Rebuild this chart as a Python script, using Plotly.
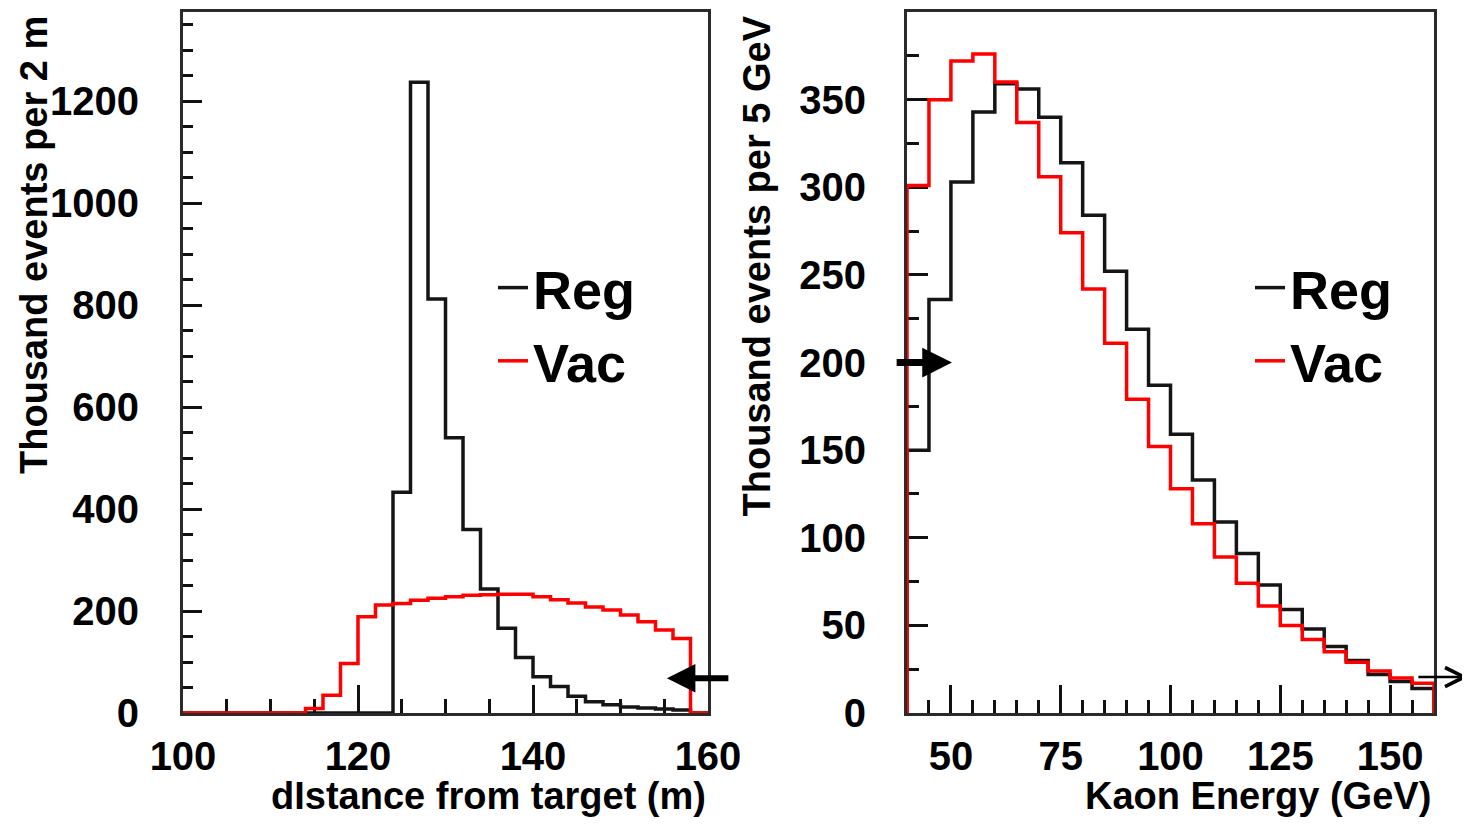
import plotly.graph_objects as go

# ---------------- data ----------------
# Left panel: decay distance from target, 2 m bins (lower bin edges)
DIST_BIN_W = 2
dist_reg_bins = [124, 126, 128, 130, 132, 134, 136, 138, 140, 142, 144, 146, 148, 150, 152, 154, 156]
dist_reg = [433, 1237, 812, 540, 360, 243, 166, 109, 71, 52, 33, 22, 16, 12, 10, 8, 6]
dist_vac_bins = [114, 116, 118, 120, 122, 124, 126, 128, 130, 132, 134, 136, 138, 140, 142,
                 144, 146, 148, 150, 152, 154, 156]
dist_vac = [9, 35, 97, 189, 212, 215, 221, 225, 228, 231, 232, 233, 233, 228, 222,
            216, 208, 202, 192, 179, 163, 146]
dist_range = [100, 160]
dist_yrange = [0, 1375]

# Right panel: kaon energy, 5 GeV bins (lower bin edges)
EN_BIN_W = 5
en_bins = [40, 45, 50, 55, 60, 65, 70, 75, 80, 85, 90, 95, 100, 105, 110, 115, 120, 125,
           130, 135, 140, 145, 150, 155]
en_reg = [150, 236, 303, 343, 359, 356, 340, 314, 284, 252, 219, 187, 159, 133, 109, 91,
          73, 59, 48, 38, 30, 22, 18, 14]
en_vac = [301, 350, 372, 376, 360, 337, 306, 274, 242, 211, 179, 152, 128, 108, 89, 74,
          61, 50, 42, 35, 29, 24, 20, 17]
en_range = [40, 160]
en_yrange = [0, 400]

left_xticks = [100, 120, 140, 160]
left_yticks = [0, 200, 400, 600, 800, 1000, 1200]
right_xticks = [50, 75, 100, 125, 150]
right_yticks = [0, 50, 100, 150, 200, 250, 300, 350]

REG_COLOR = "#151515"
VAC_COLOR = "#ff0000"
FONT = "Liberation Sans"

# page body has an 8px margin; figure coordinates are shifted accordingly
OFF = 8
W, H = 1462, 813
M_T = 12 - OFF
M_B = H - (713 - OFF)


def px_x(p):
    return (p - OFF) / W


def px_y(p):
    return (H - M_B - (p - OFF)) / (H - M_B - M_T)


def step_xy(bins, vals, width, lo, hi):
    xs = [lo] + list(bins) + [bins[-1] + width, hi]
    ys = [0] + list(vals) + [0, 0]
    return xs, ys


fig = go.Figure()

x, y = step_xy(dist_reg_bins, dist_reg, DIST_BIN_W, dist_range[0], dist_range[1])
fig.add_trace(go.Scatter(x=x, y=y, mode="lines", line=dict(shape="hv", color=REG_COLOR, width=3.5),
                         name="Reg", xaxis="x", yaxis="y", legend="legend", cliponaxis=False))
x, y = step_xy(dist_vac_bins, dist_vac, DIST_BIN_W, dist_range[0], dist_range[1])
fig.add_trace(go.Scatter(x=x, y=y, mode="lines", line=dict(shape="hv", color=VAC_COLOR, width=3.5),
                         name="Vac", xaxis="x", yaxis="y", legend="legend", cliponaxis=False))

x, y = step_xy(en_bins, en_reg, EN_BIN_W, en_range[0], en_range[1])
fig.add_trace(go.Scatter(x=x, y=y, mode="lines", line=dict(shape="hv", color=REG_COLOR, width=3.5),
                         name="Reg", xaxis="x2", yaxis="y2", legend="legend2", cliponaxis=False))
x, y = step_xy(en_bins, en_vac, EN_BIN_W, en_range[0], en_range[1])
fig.add_trace(go.Scatter(x=x, y=y, mode="lines", line=dict(shape="hv", color=VAC_COLOR, width=3.5),
                         name="Vac", xaxis="x2", yaxis="y2", legend="legend2", cliponaxis=False))

tickfont = dict(family=FONT, size=40, color="#000", weight="bold")
common = dict(showgrid=False, zeroline=False, showline=True, mirror=True, linecolor="#2a2a2a",
              linewidth=3, ticks="inside", tickwidth=3, tickcolor="#111", tickfont=tickfont,
              layer="below traces", automargin=False)

fig.update_layout(
    width=W, height=H, autosize=False,
    margin=dict(l=0, r=0, t=M_T, b=M_B, autoexpand=False),
    paper_bgcolor="white", plot_bgcolor="white",
    font=dict(family=FONT, color="#000"),
    xaxis=dict(domain=[px_x(183), px_x(708)], range=dist_range, tickvals=left_xticks,
               ticklen=28, ticklabelstandoff=6, anchor="y",
               minor=dict(dtick=5, tick0=100, ticks="inside", ticklen=14, tickwidth=3, tickcolor="#111"),
               **common),
    yaxis=dict(domain=[0, 1], range=dist_yrange, tickvals=left_yticks, ticklen=19,
               ticklabelstandoff=33, anchor="x",
               minor=dict(dtick=50, tick0=0, ticks="inside", ticklen=10, tickwidth=3, tickcolor="#111"),
               **common),
    xaxis2=dict(domain=[px_x(907), px_x(1434)], range=en_range, tickvals=right_xticks,
                ticklen=28, ticklabelstandoff=6, anchor="y2",
                minor=dict(dtick=5, tick0=40, ticks="inside", ticklen=13, tickwidth=3, tickcolor="#111"),
                **common),
    yaxis2=dict(domain=[0, 1], range=en_yrange, tickvals=right_yticks, ticklen=21,
                ticklabelstandoff=30, anchor="x2",
                minor=dict(dtick=25, tick0=0, ticks="inside", ticklen=12, tickwidth=3, tickcolor="#111"),
                **common),
    legend=dict(x=px_x(493), y=px_y(246), xanchor="left", yanchor="top", bgcolor="rgba(0,0,0,0)",
                font=dict(family=FONT, size=54, color="#000", weight="bold"), tracegroupgap=0),
    legend2=dict(x=px_x(1250), y=px_y(246), xanchor="left", yanchor="top", bgcolor="rgba(0,0,0,0)",
                 font=dict(family=FONT, size=54, color="#000", weight="bold"), tracegroupgap=0),
)

title_font = dict(family=FONT, size=38, color="#000", weight="bold")
annotations = [
    dict(text="Thousand events per 2 m", xref="paper", yref="paper", x=px_x(34), y=px_y(14),
         xanchor="center", yanchor="top", textangle=-90, showarrow=False, font=title_font),
    dict(text="Thousand events per 5 GeV", xref="paper", yref="paper", x=px_x(757), y=px_y(14),
         xanchor="center", yanchor="top", textangle=-90, showarrow=False, font=title_font),
    dict(text="dIstance from target (m)", xref="paper", yref="paper", x=px_x(708), y=px_y(796),
         xanchor="right", yanchor="middle", showarrow=False, font=title_font),
    dict(text="Kaon Energy (GeV)", xref="paper", yref="paper", x=px_x(1433), y=px_y(796),
         xanchor="right", yanchor="middle", showarrow=False, font=title_font),
    # arrows
    dict(text="", xref="x", yref="y", x=155.3, y=68, axref="x", ayref="y", ax=162.5, ay=68,
         showarrow=True, arrowhead=2, arrowwidth=6, arrowsize=0.95, arrowcolor="#000", standoff=0),
    dict(text="", xref="x2", yref="y2", x=50.25, y=200, axref="x2", ayref="y2", ax=37.3, ay=200,
         showarrow=True, arrowhead=2, arrowwidth=7, arrowsize=0.85, arrowcolor="#000", standoff=0),
    dict(text="", xref="x2", yref="y2", x=167.8, y=20.5, axref="x2", ayref="y2", ax=156.1, ay=20.5,
         showarrow=True, arrowhead=5, arrowwidth=2.5, arrowsize=1.5, arrowcolor="#000", standoff=0),
]
fig.update_layout(annotations=annotations)

fig.write_html("out.html")
